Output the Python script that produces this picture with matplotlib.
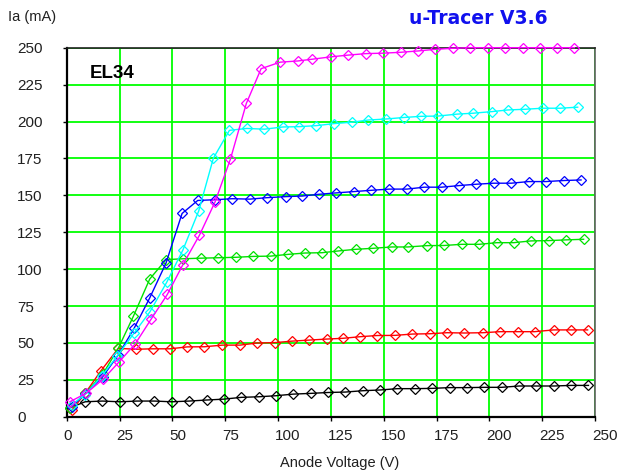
import matplotlib
matplotlib.use("Agg")
import matplotlib.pyplot as plt
from matplotlib.transforms import ScaledTranslation

plt.rcParams['font.family'] = ['Liberation Sans', 'DejaVu Sans']

# ---- data (anode voltage V, anode current mA) ----
v_black = [1.5, 8.7, 16.9, 25.1, 33.3, 41.5, 49.7, 58.0, 66.2, 74.4, 82.6, 90.8, 99.0, 107.2,
           115.5, 123.7, 131.9, 140.1, 148.3, 156.5, 164.8, 173.0, 181.2, 189.4, 197.6, 205.8,
           214.1, 222.3, 230.5, 238.7, 246.9]
i_black = [6.0, 10.1, 10.6, 10.1, 10.6, 10.6, 10.1, 10.6, 11.3, 11.9, 13.1, 13.5, 14.2, 15.3,
           15.8, 16.4, 16.7, 17.6, 18.1, 19.0, 19.0, 19.2, 19.7, 19.7, 19.9, 19.9, 20.8, 20.8,
           20.8, 21.2, 21.2]

v_red = [2.4, 8.7, 16.1, 24.4, 32.8, 40.7, 48.9, 57.1, 65.2, 73.7, 82.0, 90.0, 98.6, 106.7,
         114.7, 123.0, 130.6, 138.9, 146.9, 155.4, 163.6, 171.8, 180.0, 188.1, 196.9, 205.1,
         213.5, 221.4, 230.4, 238.6, 246.5]
i_red = [4.3, 15.8, 30.9, 46.3, 45.7, 46.0, 46.0, 47.3, 47.4, 48.5, 48.5, 49.9, 50.2, 51.2,
         51.9, 52.6, 53.1, 54.2, 55.0, 55.1, 56.0, 56.2, 56.9, 56.7, 56.9, 57.6, 57.6, 57.6,
         58.8, 58.8, 58.8]

v_green = [1.6, 8.7, 17.0, 24.4, 31.5, 39.3, 47.0, 55.0, 63.4, 71.8, 80.1, 88.3, 96.5, 104.9,
           112.8, 120.8, 128.6, 136.7, 145.0, 153.8, 161.4, 170.5, 178.6, 187.0, 195.2, 203.6,
           211.5, 219.7, 228.0, 236.3, 244.6]
i_green = [5.7, 15.8, 28.7, 46.3, 67.9, 93.3, 106.4, 107.0, 107.4, 107.7, 108.0, 108.6, 108.8,
           110.0, 110.9, 111.1, 112.3, 113.4, 114.1, 115.0, 115.0, 115.9, 116.0, 116.8, 116.8,
           117.9, 117.9, 119.1, 119.3, 119.8, 120.2]

v_blue = [2.4, 8.7, 17.0, 24.4, 31.9, 39.2, 47.0, 54.6, 62.0, 70.2, 78.4, 86.6, 94.8, 103.7,
          111.4, 119.5, 127.3, 135.8, 144.2, 152.6, 161.0, 169.2, 177.4, 185.8, 193.8, 202.0,
          210.4, 218.6, 226.8, 235.1, 243.4]
i_blue = [6.8, 15.4, 27.0, 41.8, 59.9, 80.2, 104.1, 137.7, 146.5, 147.0, 147.7, 147.4, 148.4,
          149.1, 149.5, 150.7, 151.6, 152.5, 153.4, 154.2, 154.2, 155.5, 155.5, 156.6, 157.5,
          158.2, 158.2, 159.3, 159.3, 160.0, 160.4]

v_cyan = [2.4, 8.7, 16.5, 24.0, 31.9, 39.4, 47.3, 55.0, 62.5, 69.4, 77.0, 85.2, 93.6, 102.3,
          109.9, 118.2, 126.7, 134.8, 142.8, 151.2, 159.4, 167.6, 175.8, 184.7, 192.2, 201.2,
          208.6, 217.0, 225.2, 233.6, 241.8]
i_cyan = [8.0, 15.0, 27.4, 41.3, 56.7, 71.1, 91.0, 113.0, 139.5, 175.1, 194.0, 195.3, 194.8,
          196.3, 196.5, 197.2, 198.6, 199.5, 201.0, 201.7, 202.7, 203.5, 203.7, 205.0, 205.6,
          206.7, 207.8, 208.3, 209.0, 209.0, 209.7]

v_magenta = [1.6, 9.1, 17.3, 24.9, 32.5, 40.0, 47.6, 54.9, 62.8, 70.2, 77.5, 85.0, 92.0, 101.0,
             109.3, 116.2, 125.0, 133.3, 141.6, 149.9, 158.1, 166.3, 174.4, 182.6, 191.0, 199.3,
             207.5, 215.9, 223.8, 232.0, 240.2]
i_magenta = [10.2, 15.8, 25.5, 37.3, 49.5, 66.2, 82.8, 102.8, 122.9, 145.5, 174.6, 212.2, 235.8,
             240.2, 241.0, 242.2, 243.8, 245.0, 246.0, 246.3, 246.9, 247.8, 248.9, 249.6, 250.0,
             250.0, 250.0, 250.0, 250.0, 250.0, 250.0]

series = [
    (v_black, i_black, '#000000'),
    (v_red, i_red, '#ff0000'),
    (v_green, i_green, '#00e000'),
    (v_blue, i_blue, '#0000ff'),
    (v_cyan, i_cyan, '#00ffff'),
    (v_magenta, i_magenta, '#ff00ff'),
]

ticks = [0, 25, 50, 75, 100, 125, 150, 175, 200, 225, 250]

W, H = 618, 474
fig = plt.figure(figsize=(W / 100, H / 100), dpi=100)
fig.patch.set_facecolor('white')

x0, x1 = 66.7, 595.0
y0, y1 = 416.7, 47.7
ax = fig.add_axes([x0 / W, 1 - y0 / H, (x1 - x0) / W, (y0 - y1) / H])

ax.set_xlim(0, 250)
ax.set_ylim(0, 250)
ax.set_xticks(ticks)
ax.set_yticks(ticks)
ax.grid(True, color='#00ff00', linewidth=1.3)
ax.set_axisbelow(True)

for v, i, c in series:
    ax.plot(v, i, color=c, linewidth=1.0, marker='D', markersize=4.6,
            markerfacecolor='none', markeredgecolor=c, markeredgewidth=0.9,
            clip_on=False, zorder=3)

for s in ['left', 'bottom']:
    ax.spines[s].set_color('black')
    ax.spines[s].set_linewidth(1.6)
ax.spines['top'].set_color('#202020')
ax.spines['top'].set_linewidth(1.2)
ax.spines['right'].set_color('#606060')
ax.spines['right'].set_linewidth(1.2)

# tick styling
ax.tick_params(axis='both', direction='out', length=3, width=1, color='black',
               labelsize=11, labelcolor='#202020')
# y labels left aligned at x ~ 17 px
ypad_px = x0 - 17 - 3 * 100 / 72
ax.tick_params(axis='y', pad=ypad_px * 72 / 100)
for lab in ax.get_yticklabels():
    lab.set_ha('left')
# x labels left aligned, shifted 3 px left
ax.tick_params(axis='x', pad=6)
offset = ScaledTranslation(-3 / 100, 0, fig.dpi_scale_trans)
for lab in ax.get_xticklabels():
    lab.set_ha('left')
    lab.set_transform(lab.get_transform() + offset)

ax.set_xlabel('Anode Voltage (V)', fontsize=10.5, color='#202020')
ax.xaxis.set_label_coords((340 - x0) / (x1 - x0), (y0 - 463) / (y0 - y1))
ax.xaxis.label.set_va('center')

ax.set_ylabel('Ia (mA)', rotation=0, fontsize=10.5, color='#202020', ha='left', va='center')
ax.yaxis.set_label_coords((8 - x0) / (x1 - x0), (y0 - 17.5) / (y0 - y1))

fig.text(478 / W, 1 - 18 / H, 'u-Tracer V3.6', color='#1010ee', fontsize=13.5,
         fontweight='bold', family='DejaVu Sans', ha='center', va='center')
fig.text(90 / W, 1 - 73 / H, 'EL34', color='black', fontsize=13.5, fontweight='bold',
         ha='left', va='center')

fig.savefig('out.png', dpi=100, facecolor='white')
